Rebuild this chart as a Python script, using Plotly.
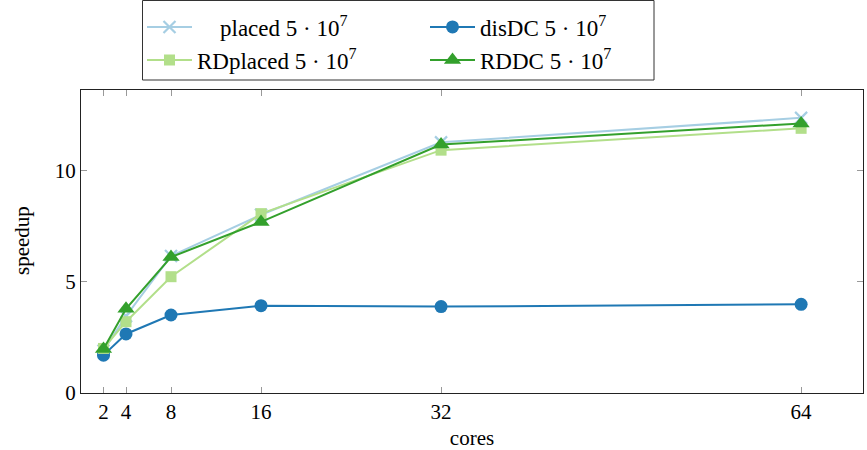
import plotly.graph_objects as go

cores = [2, 4, 8, 16, 32, 64]
placed = [1.90, 3.45, 6.15, 8.00, 11.25, 12.35]
disDC = [1.70, 2.65, 3.50, 3.92, 3.88, 3.98]
RDplaced = [2.00, 3.20, 5.22, 8.05, 10.90, 11.88]
RDDC = [1.97, 3.78, 6.10, 7.68, 11.15, 12.10]

names = ["placed 5 · 10<sup>7</sup>", "disDC 5 · 10<sup>7</sup>",
         "RDplaced 5 · 10<sup>7</sup>", "RDDC 5 · 10<sup>7</sup>"]
xticks = [2, 4, 8, 16, 32, 64]
yticks = [0, 5, 10]

FONT = "Liberation Serif"
W, H = 867, 450
L, R, T, B = 81, 4, 90, 57
PW, PH = W - L - R, H - T - B


def px_x(p):
    return (p - L) / PW


def px_y(p):
    return (H - B - p) / PH


fig = go.Figure()
fig.add_trace(go.Scatter(x=cores, y=placed, name="    " + names[0], mode="lines+markers",
                         legend="legend",
                         line=dict(color="#a6cee3", width=2),
                         marker=dict(symbol="x-thin", size=12,
                                     line=dict(color="#a6cee3", width=2.2))))
fig.add_trace(go.Scatter(x=cores, y=disDC, name=names[1], mode="lines+markers",
                         legend="legend2",
                         line=dict(color="#1f78b4", width=2),
                         marker=dict(symbol="circle", size=13, color="#1f78b4")))
fig.add_trace(go.Scatter(x=cores, y=RDplaced, name=names[2], mode="lines+markers",
                         legend="legend3",
                         line=dict(color="#b2df8a", width=2),
                         marker=dict(symbol="square", size=11, color="#b2df8a")))
fig.add_trace(go.Scatter(x=cores, y=RDDC, name=names[3], mode="lines+markers",
                         legend="legend4",
                         line=dict(color="#33a02c", width=2),
                         marker=dict(symbol="triangle-up", size=15, color="#33a02c")))

leg_common = dict(orientation="v", yanchor="middle", xanchor="left",
                  borderwidth=0, bgcolor="rgba(0,0,0,0)",
                  font=dict(family=FONT, size=23), itemwidth=45, tracegroupgap=0)

COL1, COL2 = 142, 425
ROW1, ROW2 = 27, 60

fig.update_layout(
    width=W, height=H,
    margin=dict(l=L, r=R, t=T, b=B, autoexpand=False),
    paper_bgcolor="white", plot_bgcolor="white",
    font=dict(family=FONT, size=21, color="black"),
    legend=dict(x=px_x(COL1), y=px_y(ROW1), **leg_common),
    legend2=dict(x=px_x(COL2), y=px_y(ROW1), **leg_common),
    legend3=dict(x=px_x(COL1), y=px_y(ROW2), **leg_common),
    legend4=dict(x=px_x(COL2), y=px_y(ROW2), **leg_common),
    showlegend=True,
    shapes=[dict(type="rect", xref="paper", yref="paper",
                 x0=px_x(142.5), x1=px_x(654), y0=px_y(80), y1=px_y(0.5),
                 line=dict(color="#333", width=1), fillcolor="rgba(0,0,0,0)",
                 layer="above")],
    annotations=[dict(text="speedup", xref="paper", yref="paper",
                      x=px_x(22), y=px_y(241), textangle=-90, showarrow=False,
                      xanchor="center", yanchor="middle",
                      font=dict(family=FONT, size=21))],
)
fig.update_xaxes(range=[0, 69.5], tickvals=xticks, ticktext=[str(t) for t in xticks],
                 ticks="inside", ticklen=6, tickcolor="#999", mirror="ticks",
                 showline=True, linecolor="#222", linewidth=1.2, showgrid=False,
                 zeroline=False, automargin=False,
                 title=dict(text="cores", font=dict(size=21)))
fig.update_yaxes(range=[0, 13.6], tickvals=yticks,
                 ticks="inside", ticklen=6, tickcolor="#999", mirror="ticks",
                 showline=True, linecolor="#222", linewidth=1.2, showgrid=False,
                 zeroline=False, automargin=False)

fig.write_html("out.html", config={"displayModeBar": False},
               post_script="document.body.style.margin='0px';")
